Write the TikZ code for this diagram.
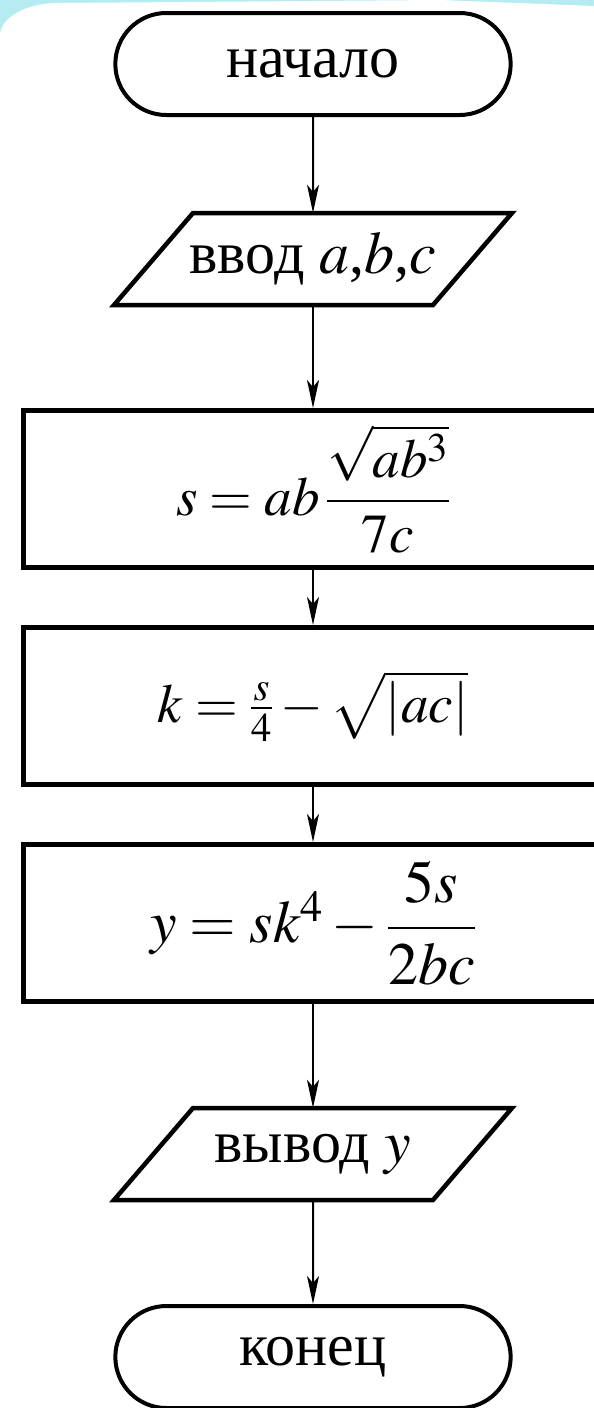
\documentclass[tikz,border=0pt]{standalone}
\usepackage{amsmath}
\usepackage{mathptmx}
\usepackage{fontspec}
\setmainfont{Liberation Serif}
\usetikzlibrary{shapes.misc,arrows.meta}

\definecolor{glow}{RGB}{182,236,241}

\tikzset{
    terminal/.style={draw, rounded rectangle, line width=4pt,
        minimum width=402pt, minimum height=102pt},
    io/.style={minimum width=250pt, minimum height=92pt},
    outline/.style={line width=4.5pt, line join=miter},
    process/.style={draw, rectangle, line width=5pt,
        minimum width=580pt, minimum height=157pt},
    smaller/.style={font=\fontsize{55}{60}\selectfont},
    flow/.style={line width=2pt, -{Stealth[length=28pt, width=12pt, inset=7pt]}}
}

\begin{document}
\begin{tikzpicture}[x=1pt, y=-1pt, font=\fontsize{60}{66}\selectfont]
    \useasboundingbox (0, 0) rectangle (594, 1408);
    \fill[glow] (0, 0) rectangle (594, 1408);
    \fill[white]
        (0, 1408) -- (0, 36)
        arc[start angle=180, end angle=270, x radius=58, y radius=33]
        -- (440, 0) -- (594, 6) -- (594, 1408) -- cycle;

    \node[terminal] (start) at (313, 64) {начало};
    \node[io] (input) at (313, 259) {ввод $a$,$b$,$c$};
    \node[process, smaller] (calcs) at (313, 489) {$s=ab\,\dfrac{\sqrt{ab^3}}{7c}$};
    \node[process, smaller] (calck) at (313, 706) {$k=\frac{s}{4}-\sqrt{|ac|}$};
    \node[process] (calcy) at (313, 923) {$y=sk^4-\dfrac{5s}{2bc}$};
    \node[io] (output) at (313, 1154) {вывод $y$};
    \node[terminal] (stop) at (313, 1357) {конец};

    \draw[outline]
        \foreach \n in {input, output} {
            (\n.center) ++(-199, 46) -- ++(79, -92) -- ++(319, 0) -- ++(-79, 92) -- cycle
        };

    \foreach \a/\b in {start/input, input/calcs, calcs/calck, calck/calcy, calcy/output, output/stop}
        \draw[flow] (\a) -- (\b);
\end{tikzpicture}
\end{document}
